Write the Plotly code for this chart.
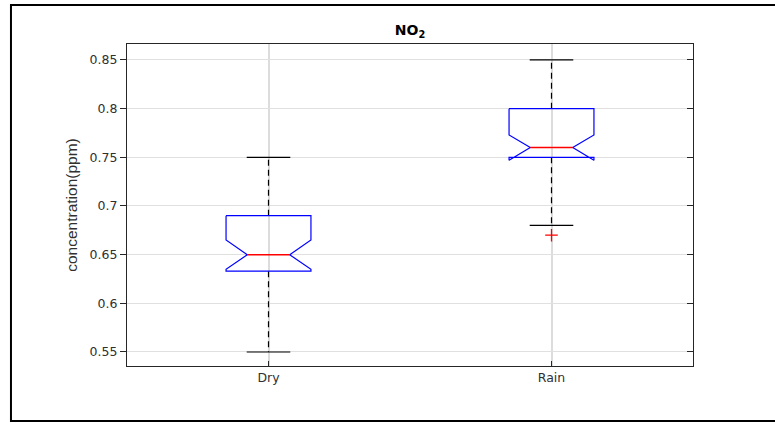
import numpy as np
import plotly.graph_objects as go

# box statistics (ppm)
categories = ["Dry", "Rain"]
q1 = [0.633, 0.750]
median = [0.650, 0.760]
q3 = [0.690, 0.800]
whisker_lo = [0.550, 0.680]
whisker_hi = [0.750, 0.850]
notch_lo = [0.635, 0.747]
notch_hi = [0.665, 0.773]
outlier_cat = ["Rain"]
outlier_val = [0.670]

pos = np.arange(1, len(categories) + 1)
hw = 0.15   # half box width
nw = 0.075  # half width at notch
cw = 0.077  # half cap width

fig = go.Figure()

for i, c in enumerate(categories):
    xc = pos[i]
    # whiskers (dashed)
    fig.add_trace(go.Scatter(x=[xc, xc, None, xc, xc],
                             y=[q3[i], whisker_hi[i], None, q1[i], whisker_lo[i]],
                             mode="lines", line=dict(color="black", width=1.2, dash="6px,4px"),
                             showlegend=False, hoverinfo="skip"))
    # caps
    fig.add_trace(go.Scatter(x=[xc - cw, xc + cw, None, xc - cw, xc + cw],
                             y=[whisker_hi[i], whisker_hi[i], None, whisker_lo[i], whisker_lo[i]],
                             mode="lines", line=dict(color="black", width=1.2),
                             showlegend=False, hoverinfo="skip"))
    # notched box
    bx = [xc - hw, xc + hw, xc + hw, xc + nw, xc + hw, xc + hw, xc - hw, xc - hw, xc - nw, xc - hw, xc - hw]
    by = [q3[i], q3[i], notch_hi[i], median[i], notch_lo[i], q1[i], q1[i], notch_lo[i], median[i], notch_hi[i], q3[i]]
    fig.add_trace(go.Scatter(x=bx, y=by, mode="lines", line=dict(color="#0000ff", width=1.2),
                             showlegend=False, hoverinfo="skip"))
    # median
    fig.add_trace(go.Scatter(x=[xc - nw, xc + nw], y=[median[i], median[i]], mode="lines",
                             line=dict(color="#ff0000", width=1.5), showlegend=False, hoverinfo="skip"))

# outliers
fig.add_trace(go.Scatter(x=[pos[categories.index(c)] for c in outlier_cat], y=outlier_val,
                         mode="markers",
                         marker=dict(symbol="cross-thin", size=9, line=dict(color="#ff0000", width=1.3)),
                         showlegend=False, hoverinfo="skip"))

# dummy trace for right axis ticks
fig.add_trace(go.Scatter(x=[None], y=[None], yaxis="y2", showlegend=False))

yrange = [0.5356, 0.8664]
tickv = [0.55, 0.6, 0.65, 0.7, 0.75, 0.8, 0.85]
tickt = ["0.55", "0.6", "0.65", "0.7", "0.75", "0.8", "0.85"]

fig.update_layout(
    width=775, height=423,
    margin=dict(l=127, r=82, t=44, b=57),
    paper_bgcolor="white", plot_bgcolor="white",
    font=dict(family="DejaVu Sans, sans-serif", size=12.5, color="#303030"),
    title=dict(text="<b>NO<sub>2</sub></b>", x=0.5, xref="paper", y=1 - 30 / 423, yref="container",
               xanchor="center", yanchor="middle",
               font=dict(family="DejaVu Sans, sans-serif", size=14, color="black")),
    xaxis=dict(range=[0.5, 2.5], tickvals=list(pos), ticktext=categories,
               showgrid=True, gridcolor="#dcdcdc", gridwidth=1.5,
               showline=True, linecolor="#262626", linewidth=1.2, mirror=True,
               ticks="inside", ticklen=5, tickcolor="#262626", zeroline=False),
    yaxis=dict(range=yrange, tickvals=tickv, ticktext=tickt,
               showgrid=True, gridcolor="#e0e0e0", gridwidth=1,
               showline=True, linecolor="#262626", linewidth=1.2, mirror=True,
               ticks="outside", ticklen=6, tickcolor="#262626", zeroline=False,
               title=dict(text="concentration(ppm)", standoff=8,
                          font=dict(family="Liberation Sans, Arial, sans-serif", size=15.5))),
    yaxis2=dict(range=yrange, tickvals=tickv, overlaying="y", side="right",
                showticklabels=False, showgrid=False, ticks="inside", ticklen=6,
                tickcolor="#262626", zeroline=False),
    shapes=[dict(type="rect", xref="paper", yref="paper",
                 x0=-0.205, x1=1.25, y0=-0.171, y1=1.121,
                 line=dict(color="black", width=2), layer="below")],
)

fig.write_html("out.html", config={"displayModeBar": False},
               post_script="document.body.style.margin='0';")
